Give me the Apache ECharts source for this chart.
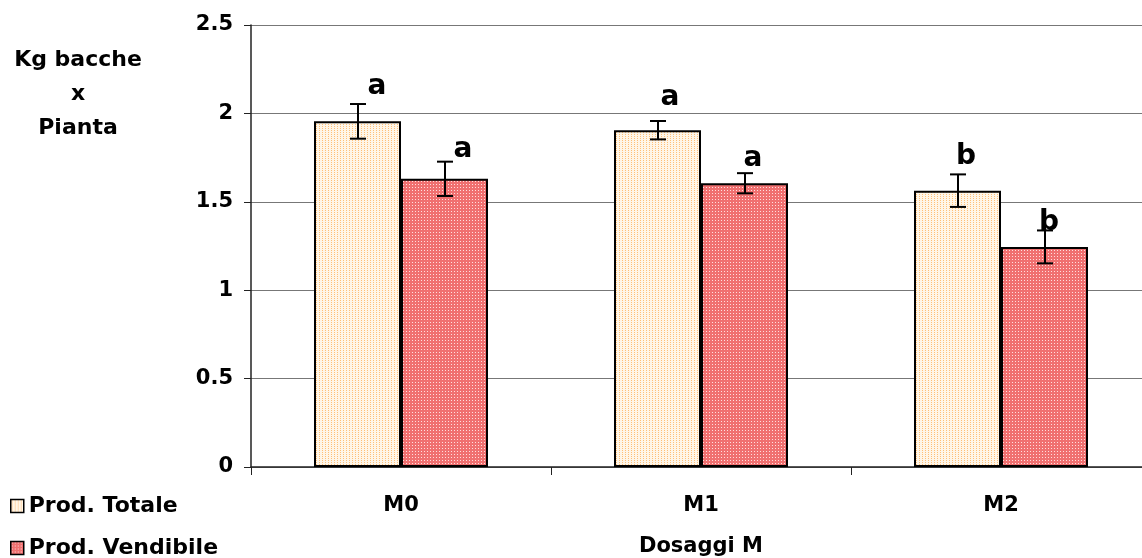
<!DOCTYPE html>
<html>
<head>
<meta charset="utf-8">
<script src="https://cdn.jsdelivr.net/npm/echarts@6/dist/echarts.min.js"></script>
<style>
html,body{margin:0;padding:0;background:#fff;overflow:hidden;width:1142px;height:558px;}
#chart{width:1151px;height:558px;}
</style>
</head>
<body>
<div id="chart"></div>
<script>
// ---- data ----
const categories = ['M0', 'M1', 'M2'];
const seriesNames = ['Prod. Totale', 'Prod. Vendibile'];
const totale = [1.955, 1.905, 1.563];
const totaleErr = [0.098, 0.052, 0.092];
const vendibile = [1.63, 1.605, 1.245];
const vendibileErr = [0.097, 0.057, 0.093];
const totaleLetters = ['a', 'a', 'b'];
const vendibileLetters = ['a', 'a', 'b'];
const yTicks = [0, 0.5, 1, 1.5, 2, 2.5];
const yTitle = 'Kg bacche\nx\nPianta';
const xTitle = 'Dosaggi M';

// ---- layout / style ----
const FONT = '"DejaVu Sans", sans-serif';
const BAR_W = 87;
// letter label offsets relative to the error bar top (dx, dy of label centre)
const totaleLetterOff = [[19, -17], [12, -23], [8, -18]];
const vendibileLetterOff = [[18, -12], [8, -14], [4, -8]];

function pattern(w, h, bg, fg, dots) {
  const c = document.createElement('canvas');
  c.width = w; c.height = h;
  const g = c.getContext('2d');
  const img = g.createImageData(w, h);
  for (let y = 0; y < h; y++) {
    for (let x = 0; x < w; x++) {
      const on = dots.some(function (d) { return d[0] === x && d[1] === y; });
      const col = on ? fg : bg;
      const k = (y * w + x) * 4;
      img.data[k] = col[0]; img.data[k + 1] = col[1]; img.data[k + 2] = col[2]; img.data[k + 3] = 255;
    }
  }
  g.putImageData(img, 0, 0);
  return c;
}
const patTotale = pattern(3, 2, [255, 246, 232], [255, 192, 120], [[1, 0]]);
const patVend = pattern(3, 3, [240, 112, 112], [255, 222, 222], [[1, 1]]);

const chart = echarts.init(document.getElementById('chart'));

function errSeries(name, vals, errs, sign, letters, offs) {
  return {
    type: 'custom',
    name: name + ' err',
    z: 10,
    silent: true,
    encode: { x: 0, y: 1 },
    data: vals.map(function (v, i) { return [i, v, errs[i]]; }),
    renderItem: function (params, api) {
      const i = api.value(0), v = api.value(1), e = api.value(2);
      const c = api.coord([i, v]);
      const x = Math.round(c[0] + sign * BAR_W / 2);
      const yT = api.coord([i, v + e])[1];
      const yB = api.coord([i, v - e])[1];
      const hw = 8;
      const ls = { stroke: '#000', lineWidth: 2 };
      const off = offs[params.dataIndex];
      return {
        type: 'group',
        children: [
          { type: 'line', shape: { x1: x, y1: yT, x2: x, y2: yB }, style: ls },
          { type: 'line', shape: { x1: x - hw, y1: yT, x2: x + hw, y2: yT }, style: ls },
          { type: 'line', shape: { x1: x - hw, y1: yB, x2: x + hw, y2: yB }, style: ls },
          { type: 'text', style: {
              text: letters[params.dataIndex], x: x + off[0], y: yT + off[1],
              align: 'center', verticalAlign: 'middle',
              fontSize: 28, fontWeight: 'bold', fontFamily: FONT, fill: '#000' } }
        ]
      };
    }
  };
}

const legendBase = {
  orient: 'vertical',
  left: 5,
  icon: 'rect',
  itemWidth: 13,
  itemHeight: 13,
  itemGap: 5,
  selectedMode: false,
  textStyle: { fontSize: 22, fontWeight: 'bold', fontFamily: FONT, color: '#000' },
  itemStyle: { borderColor: '#000', borderWidth: 1.5 }
};

chart.setOption({
  animation: false,
  backgroundColor: '#fff',
  grid: { left: 251, top: 25, width: 900, height: 442, outerBoundsMode: 'none', containLabel: false },
  legend: [
    Object.assign({}, legendBase, { data: [seriesNames[0]], top: 490 }),
    Object.assign({}, legendBase, { data: [seriesNames[1]], top: 532 })
  ],
  graphic: [{
    type: 'text', x: 78, y: 94,
    style: { text: yTitle, align: 'center', verticalAlign: 'middle',
      fontSize: 22, fontWeight: 'bold', fontFamily: FONT, fill: '#000', lineHeight: 34 }
  }],
  xAxis: {
    type: 'category',
    data: categories,
    name: xTitle,
    nameLocation: 'middle',
    nameGap: 69,
    nameTextStyle: { fontSize: 21, fontWeight: 'bold', fontFamily: FONT, color: '#000' },
    axisLine: { lineStyle: { color: '#222', width: 1.5 } },
    axisTick: { show: true, length: 8, lineStyle: { color: '#222', width: 1 } },
    axisLabel: { margin: 28, fontSize: 21, fontWeight: 'bold', fontFamily: FONT, color: '#000' }
  },
  yAxis: {
    type: 'value',
    min: 0, max: 2.5, interval: 0.5,
    axisLine: { show: true, lineStyle: { color: '#222', width: 1.5 } },
    axisTick: { show: true, length: 7, lineStyle: { color: '#222', width: 1 } },
    axisLabel: { margin: 18, fontSize: 21, fontWeight: 'bold', fontFamily: FONT, color: '#000',
      formatter: function (v) { return yTicks.indexOf(v) >= 0 ? String(v) : ''; } },
    splitLine: { show: true, lineStyle: { color: '#777', width: 1 } }
  },
  series: [
    { name: seriesNames[0], type: 'bar', data: totale, barWidth: BAR_W, barGap: '0%',
      itemStyle: { color: { image: patTotale, repeat: 'repeat' }, borderColor: '#000', borderWidth: 2 } },
    { name: seriesNames[1], type: 'bar', data: vendibile, barWidth: BAR_W, barGap: '0%',
      itemStyle: { color: { image: patVend, repeat: 'repeat' }, borderColor: '#000', borderWidth: 2 } },
    errSeries(seriesNames[0], totale, totaleErr, -1, totaleLetters, totaleLetterOff),
    errSeries(seriesNames[1], vendibile, vendibileErr, 1, vendibileLetters, vendibileLetterOff)
  ]
});
</script>
</body>
</html>
